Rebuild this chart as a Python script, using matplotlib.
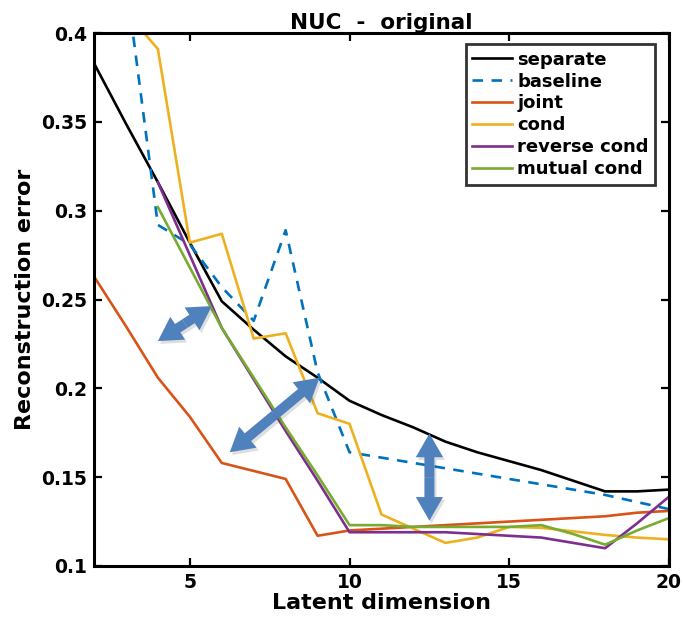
import numpy as np
import matplotlib
matplotlib.use("Agg")
import matplotlib.pyplot as plt
from matplotlib.patches import FancyArrowPatch
import matplotlib.patheffects as pe

plt.rcParams['font.family'] = ['DejaVu Sans']
plt.rcParams['font.weight'] = 'bold'

nan = np.nan
latent_dim = list(range(2, 21))

separate = [0.383, 0.349, 0.316, 0.282, 0.249, 0.233, 0.218, 0.206, 0.193, 0.185,
            0.178, 0.170, 0.164, 0.159, 0.154, 0.148, 0.142, 0.142, 0.143]
baseline = [nan, 0.430, 0.292, 0.281, 0.257, 0.238, 0.289, 0.209, 0.164, 0.161,
            0.158, 0.155, 0.152, 0.149, 0.146, 0.143, 0.140, 0.136, 0.132]
joint = [0.263, 0.235, 0.206, 0.184, 0.158, 0.1535, 0.149, 0.117, 0.120, 0.121,
         0.122, 0.123, 0.124, 0.125, 0.126, 0.127, 0.128, 0.130, 0.131]
cond = [nan, 0.412, 0.391, 0.282, 0.287, 0.228, 0.231, 0.186, 0.180, 0.129,
        0.121, 0.113, 0.116, 0.122, 0.1215, 0.1195, 0.1175, 0.116, 0.115]
reverse_cond = [nan, nan, 0.316, 0.275, 0.234, 0.205, 0.176, 0.148, 0.119, 0.119,
                0.119, 0.119, 0.118, 0.117, 0.116, 0.113, 0.110, 0.124, 0.139]
mutual_cond = [nan, nan, 0.302, 0.268, 0.234, 0.206, 0.178, 0.151, 0.123, 0.123,
               0.122, 0.122, 0.122, 0.122, 0.123, 0.118, 0.112, 0.120, 0.127]

series = [
    ("separate", separate, "#000000", "-"),
    ("baseline", baseline, "#0072BD", (0, (4.0, 3.2))),
    ("joint", joint, "#D95319", "-"),
    ("cond", cond, "#EDB120", "-"),
    ("reverse cond", reverse_cond, "#7E2F8E", "-"),
    ("mutual cond", mutual_cond, "#77AC30", "-"),
]

# double-headed gap arrows: (start, end) in data units
gap_arrows = [
    ((4.0, 0.2266), (5.69, 0.2463)),
    ((6.25, 0.1640), (9.06, 0.2060)),
    ((12.5, 0.1745), (12.5, 0.1255)),
]

fig = plt.figure(figsize=(6.83, 6.23), dpi=100)
ax = fig.add_axes([0.1376, 0.0915, 0.8419, 0.8555])

for name, vals, color, ls in series:
    ax.plot(latent_dim, vals, color=color, linestyle=ls, linewidth=1.9, label=name)

# each double arrow is two filled single arrows pointing outward from the middle
arrow_style = "simple,head_length=0.85,head_width=0.98,tail_width=0.36"
for (x0, y0), (x1, y1) in gap_arrows:
    xm, ym = (x0 + x1) / 2, (y0 + y1) / 2
    for end in [(x0, y0), (x1, y1)]:
        arr = FancyArrowPatch((xm, ym), end, arrowstyle=arrow_style,
                              mutation_scale=20, linewidth=0,
                              facecolor="#4F81BD", edgecolor="none",
                              shrinkA=0, shrinkB=0, zorder=5)
        arr.set_path_effects([pe.SimplePatchShadow(offset=(1.5, -2), alpha=0.16,
                                                   shadow_rgbFace="#333333"),
                              pe.Normal()])
        ax.add_patch(arr)

ax.set_xlim(2, 20)
ax.set_ylim(0.1, 0.4)
ax.set_xticks([5, 10, 15, 20])
ax.set_yticks([0.1, 0.15, 0.2, 0.25, 0.3, 0.35, 0.4])
ax.set_yticklabels(["0.1", "0.15", "0.2", "0.25", "0.3", "0.35", "0.4"])
ax.tick_params(direction="in", top=True, right=True, length=6, width=1.6,
               labelsize=13.5, pad=5)
for lbl in ax.get_xticklabels() + ax.get_yticklabels():
    lbl.set_fontweight("bold")
for sp in ax.spines.values():
    sp.set_linewidth(2.2)

ax.set_xlabel("Latent dimension", fontsize=16, fontweight="bold", labelpad=1)
ax.set_ylabel("Reconstruction error", fontsize=16, fontweight="bold", labelpad=4)
ax.set_title("NUC  -  original", fontsize=15.5, fontweight="bold", pad=3)

leg = ax.legend(loc="upper right", bbox_to_anchor=(0.9757, 0.979),
                frameon=True, fancybox=False, edgecolor="black",
                handlelength=2.2, handletextpad=0.3, borderpad=0.35,
                labelspacing=0.22, borderaxespad=0.0,
                prop={"weight": "bold", "size": 13})
leg.get_frame().set_linewidth(2.0)

fig.savefig("out.png", dpi=100)
